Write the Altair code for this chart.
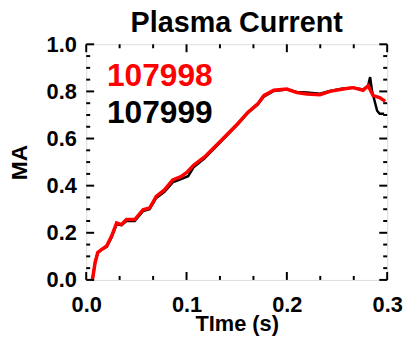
import altair as alt
import pandas as pd

# ---- data ----
t_red = [0.0056, 0.0063, 0.0089, 0.0115, 0.0155, 0.0204, 0.0253, 0.0303, 0.0352, 0.0401,
         0.0484, 0.0566, 0.0632, 0.0698, 0.078, 0.0862, 0.0945, 0.101, 0.107, 0.118,
         0.1345, 0.151, 0.161, 0.171, 0.177, 0.187, 0.200, 0.210, 0.220, 0.233,
         0.243, 0.256, 0.266, 0.276, 0.281, 0.286, 0.2925, 0.298]
i_red = [0.0, 0.004, 0.074, 0.116, 0.130, 0.144, 0.186, 0.242, 0.235, 0.256,
         0.256, 0.298, 0.305, 0.354, 0.382, 0.424, 0.438, 0.459, 0.487, 0.522,
         0.592, 0.663, 0.711, 0.747, 0.782, 0.805, 0.810, 0.795, 0.789, 0.786,
         0.800, 0.810, 0.816, 0.805, 0.824, 0.782, 0.774, 0.758]

t_blk = [0.0056, 0.0063, 0.0089, 0.0115, 0.0155, 0.0204, 0.0253, 0.0303, 0.0352, 0.0401,
         0.0484, 0.0566, 0.0632, 0.0698, 0.078, 0.0862, 0.0945, 0.1016, 0.107, 0.118,
         0.1345, 0.151, 0.161, 0.171, 0.177, 0.187, 0.200, 0.210, 0.220, 0.233,
         0.243, 0.256, 0.266, 0.276, 0.281, 0.283, 0.285, 0.290, 0.2925, 0.297]
i_blk = [0.0, 0.004, 0.074, 0.116, 0.128, 0.140, 0.180, 0.236, 0.232, 0.250,
         0.250, 0.292, 0.300, 0.348, 0.374, 0.414, 0.428, 0.440, 0.478, 0.516,
         0.588, 0.660, 0.708, 0.744, 0.778, 0.802, 0.808, 0.798, 0.796, 0.790,
         0.802, 0.812, 0.816, 0.808, 0.824, 0.861, 0.800, 0.718, 0.705, 0.705]

shots = ["107998", "107999"]
shot_colors = ["red", "black"]
label_x = [0.0207, 0.0207]
label_y = [0.866, 0.706]

x_major = [0.0, 0.1, 0.2, 0.3]
x_minor = [0.0333, 0.0667, 0.1333, 0.1667, 0.2333, 0.2667]
y_major = [0.0, 0.2, 0.4, 0.6, 0.8, 1.0]
y_minor = [0.05, 0.1, 0.15, 0.25, 0.3, 0.35, 0.45, 0.5, 0.55, 0.65, 0.7, 0.75, 0.85, 0.9, 0.95]

W, H = 304, 238
FONT = "Liberation Sans"

df_red = pd.DataFrame({"t": t_red, "i": i_red})
df_blk = pd.DataFrame({"t": t_blk, "i": i_blk})
df_lab = pd.DataFrame({"x": label_x, "y": label_y, "txt": shots, "c": shot_colors})

xs = alt.Scale(domain=[0, 0.3], nice=False, zero=False)
ys = alt.Scale(domain=[0, 1.0], nice=False, zero=False)

x_axis = alt.Axis(values=x_major, format=".1f", ticks=False, domain=False, grid=False,
                  labelFont=FONT, labelFontWeight="bold", labelFontSize=22, labelColor="black",
                  labelPadding=15, title="TIme (s)", titleFont=FONT, titleFontWeight="bold",
                  titleFontSize=22, titleColor="black", titleBaseline="alphabetic",
                  titleY=51, labelFlush=False)
y_axis = alt.Axis(values=y_major, format=".1f", ticks=False, domain=False, grid=False,
                  labelFont=FONT, labelFontWeight="bold", labelFontSize=22, labelColor="black",
                  labelPadding=10, title="MA", titleFont=FONT, titleFontWeight="bold",
                  titleFontSize=23, titleColor="black", titlePadding=15, labelFlush=False)

black = alt.Chart(df_blk).mark_line(color="black", strokeWidth=2.5).encode(
    x=alt.X("t:Q", scale=xs, axis=x_axis), y=alt.Y("i:Q", scale=ys, axis=y_axis))
red = alt.Chart(df_red).mark_line(color="red", strokeWidth=3.5).encode(
    x=alt.X("t:Q", scale=xs), y=alt.Y("i:Q", scale=ys))

labels = alt.Chart(df_lab).mark_text(align="left", baseline="middle", font=FONT,
                                     fontWeight="bold", fontSize=32).encode(
    x=alt.X("x:Q", scale=xs), y=alt.Y("y:Q", scale=ys),
    text="txt:N", color=alt.Color("c:N", scale=None))

def xticks(vals, ln):
    d = pd.DataFrame({"v": vals})
    b = alt.Chart(d).mark_rule(color="black", strokeWidth=2).encode(
        x=alt.X("v:Q", scale=xs), y=alt.value(H), y2=alt.value(H - ln))
    t = alt.Chart(d).mark_rule(color="black", strokeWidth=2).encode(
        x=alt.X("v:Q", scale=xs), y=alt.value(0), y2=alt.value(ln))
    return [b, t]

def yticks(vals, ln):
    d = pd.DataFrame({"v": vals})
    l = alt.Chart(d).mark_rule(color="black", strokeWidth=2).encode(
        y=alt.Y("v:Q", scale=ys), x=alt.value(0), x2=alt.value(ln))
    r = alt.Chart(d).mark_rule(color="black", strokeWidth=2).encode(
        y=alt.Y("v:Q", scale=ys), x=alt.value(W), x2=alt.value(W - ln))
    return [l, r]

layers = [black, red, labels] + xticks(x_major, 8) + xticks(x_minor, 4) \
    + yticks(y_major, 8) + yticks(y_minor, 4)

chart = alt.layer(*layers).properties(
    width=W, height=H,
    title=alt.TitleParams("Plasma Current", font=FONT, fontWeight="bold", fontSize=29,
                          color="black", anchor="middle", offset=-5),
    autosize=alt.AutoSizeParams(type="none"),
    padding={"left": 79, "top": 35, "right": 17, "bottom": 56},
).configure_view(stroke="black", strokeWidth=3).configure(background="white")

chart.save("out.html", embed_options={"renderer": "svg", "actions": False})
